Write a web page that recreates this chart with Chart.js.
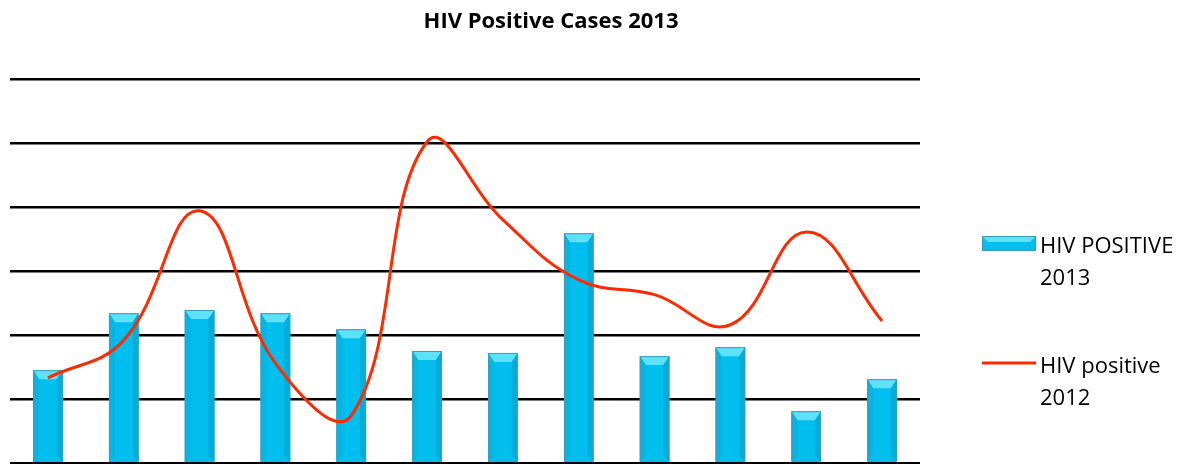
<!DOCTYPE html>
<html>
<head>
<meta charset="utf-8">
<style>
html,body{margin:0;padding:0;background:#fff;}
#wrap{position:relative;width:1199px;height:464px;}
</style>
<script src="https://cdn.jsdelivr.net/npm/chart.js@4/dist/chart.umd.min.js"></script>
</head>
<body>
<div id="wrap"><canvas id="c" width="1199" height="464"></canvas></div>
<script>
const categories = ["1","2","3","4","5","6","7","8","9","10","11","12"];
const hiv2013 = [1.45, 2.34, 2.39, 2.34, 2.09, 1.75, 1.72, 3.59, 1.67, 1.81, 0.81, 1.31];
const hiv2012 = [1.33, 1.92, 3.94, 1.56, 0.74, 5.02, 3.80, 2.86, 2.63, 2.16, 3.61, 2.22];
const yTicks = [0, 1, 2, 3, 4, 5, 6];
const titleText = "HIV Positive Cases 2013";
const legendBar = ["HIV POSITIVE", "2013"];
const legendLine = ["HIV positive", "2012"];

const FONT = "'Open Sans', 'Liberation Sans', sans-serif";

const bevelPlugin = {
  id: 'bevel',
  afterDatasetDraw(chart, args) {
    if (args.index !== 0) return;
    const ctx = chart.ctx;
    const meta = args.meta;
    ctx.save();
    meta.data.forEach(bar => {
      const w = bar.width, l = bar.x - w / 2, r = bar.x + w / 2, t = bar.y, b = bar.base;
      const h = 9;
      // top bevel
      ctx.fillStyle = '#5EE2FB';
      ctx.beginPath();
      ctx.moveTo(l, t); ctx.lineTo(r, t); ctx.lineTo(r - 6, t + h); ctx.lineTo(l + 6, t + h); ctx.closePath();
      ctx.fill();
      // left bevel
      ctx.fillStyle = '#07B4E2';
      ctx.beginPath();
      ctx.moveTo(l, t); ctx.lineTo(l + 6, t + h); ctx.lineTo(l + 6, b - 6); ctx.lineTo(l, b); ctx.closePath();
      ctx.fill();
      // right bevel
      ctx.fillStyle = '#06ACD8';
      ctx.beginPath();
      ctx.moveTo(r, t); ctx.lineTo(r - 6, t + h); ctx.lineTo(r - 6, b - 6); ctx.lineTo(r, b); ctx.closePath();
      ctx.fill();
      ctx.strokeStyle = '#3A9CBA';
      ctx.lineWidth = 1;
      ctx.strokeRect(l + 0.5, t + 0.5, w - 1, b - t - 1);
    });
    ctx.restore();
  }
};

const decorPlugin = {
  id: 'decor',
  afterDraw(chart) {
    const ctx = chart.ctx;
    ctx.save();
    ctx.fillStyle = '#000';
    ctx.textAlign = 'center';
    ctx.textBaseline = 'middle';
    ctx.font = "bold 22px " + FONT;
    ctx.fillText(titleText, 551, 22);

    // legend bar icon
    const ix = 982, iw = 54;
    ctx.fillStyle = '#00BFEF';
    ctx.fillRect(ix, 236, iw, 15);
    ctx.fillStyle = '#5EE2FB';
    ctx.beginPath();
    ctx.moveTo(ix, 236); ctx.lineTo(ix + iw, 236); ctx.lineTo(ix + iw - 6, 242); ctx.lineTo(ix + 6, 242); ctx.closePath();
    ctx.fill();
    ctx.strokeStyle = '#3A9CBA';
    ctx.lineWidth = 1;
    ctx.strokeRect(ix + 0.5, 236.5, iw - 1, 14);

    // legend line icon
    ctx.strokeStyle = '#FF2A00';
    ctx.lineWidth = 3;
    ctx.beginPath();
    ctx.moveTo(ix, 363); ctx.lineTo(ix + iw, 363);
    ctx.stroke();

    ctx.fillStyle = '#000';
    ctx.textAlign = 'left';
    ctx.font = "22px " + FONT;
    ctx.fillText(legendBar[0], 1040, 247);
    ctx.fillText(legendBar[1], 1040, 279);
    ctx.fillText(legendLine[0], 1040, 367);
    ctx.fillText(legendLine[1], 1040, 399);
    ctx.restore();
  }
};

new Chart(document.getElementById('c'), {
  data: {
    labels: categories,
    datasets: [
      {
        type: 'bar',
        label: legendBar.join(' '),
        data: hiv2013,
        backgroundColor: '#00BFEF',
        borderWidth: 0,
        categoryPercentage: 1,
        barPercentage: 0.39,
        order: 2
      },
      {
        type: 'line',
        label: legendLine.join(' '),
        data: hiv2012,
        borderColor: '#FF2A00',
        borderWidth: 3,
        pointRadius: 0,
        tension: 0.42,
        fill: false,
        order: 1
      }
    ]
  },
  options: {
    responsive: false,
    animation: false,
    layout: { padding: { left: 10, right: 279, top: 79, bottom: 1 } },
    plugins: { legend: { display: false }, title: { display: false }, tooltip: { enabled: false } },
    scales: {
      x: { display: false },
      y: {
        min: yTicks[0], max: yTicks[yTicks.length - 1],
        afterBuildTicks(axis) { axis.ticks = yTicks.map(v => ({ value: v })); },
        ticks: { display: false },
        border: { display: false },
        grid: { color: '#000', lineWidth: 2.5, drawTicks: false }
      }
    }
  },
  plugins: [bevelPlugin, decorPlugin]
});
</script>
</body>
</html>
